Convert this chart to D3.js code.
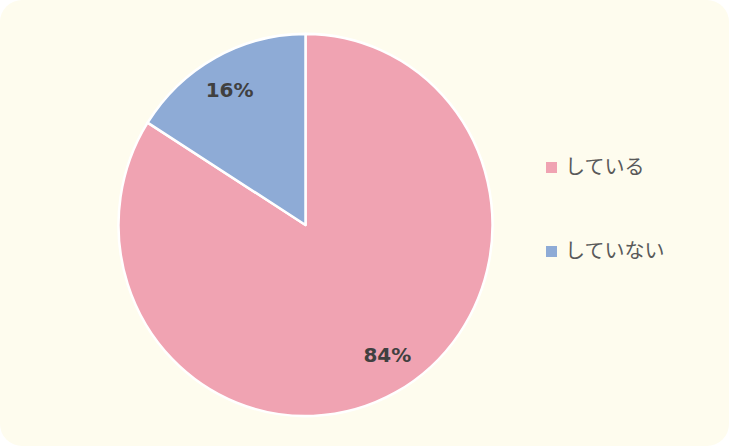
<!DOCTYPE html>
<html><head><meta charset="utf-8">
<script src="https://cdn.jsdelivr.net/npm/d3@7"></script>
<style>html,body{margin:0;padding:0;background:#fff;}svg{display:block;}</style>
</head><body>
<svg id="c" width="729" height="446"></svg>
<script>
const categories = ["している", "していない"];
const values = [84, 16];
const labels = ["84%", "16%"];
const colors = ["#F0A3B2", "#8EABD6"];

const svg = d3.select("#c");
svg.append("rect").attr("x",0).attr("y",0).attr("width",729).attr("height",446)
  .attr("rx",22).attr("ry",22).attr("fill","#FEFCEE");

const cx = 305.5, cy = 225, r = 187;
const pie = d3.pie().sort(null).value(d => d).startAngle(0).endAngle(2*Math.PI);
const arcs = pie(values);
const arc = d3.arc().innerRadius(0).outerRadius(r);
const g = svg.append("g").attr("transform", `translate(${cx},${cy})`);
g.append("g").attr("transform","scale(1,1.022)")
  .selectAll("path").data(arcs).enter().append("path")
  .attr("d", arc).attr("fill", (d,i) => colors[i])
  .attr("stroke", "#fff").attr("stroke-width", 2.5).attr("stroke-linejoin","round");

const labelArc = d3.arc().innerRadius(r*0.82).outerRadius(r*0.82);
g.selectAll("text").data(arcs).enter().append("text")
  .attr("transform", (d,i) => { const c = labelArc.centroid(d); return `translate(${c[0] + (i===0?8:-2)},${c[1] + (i===0?-4:-1)})`; })
  .attr("text-anchor","middle").attr("dominant-baseline","central")
  .attr("font-family","Verdana, 'DejaVu Sans', sans-serif").attr("font-weight","bold")
  .attr("font-size", 20).attr("fill","#404040")
  .text((d,i) => labels[i]);

const leg = svg.append("g");
categories.forEach((c,i) => {
  const y = 167.5 + i*84;
  leg.append("rect").attr("x",546).attr("y",y-5.5).attr("width",11).attr("height",11).attr("fill",colors[i]);
  leg.append("text").attr("x",565).attr("y",y-2).attr("dominant-baseline","central")
    .attr("font-family","'Noto Sans CJK JP', sans-serif").attr("font-size",20).attr("fill","#595959")
    .text(c);
});
</script>
</body></html>
